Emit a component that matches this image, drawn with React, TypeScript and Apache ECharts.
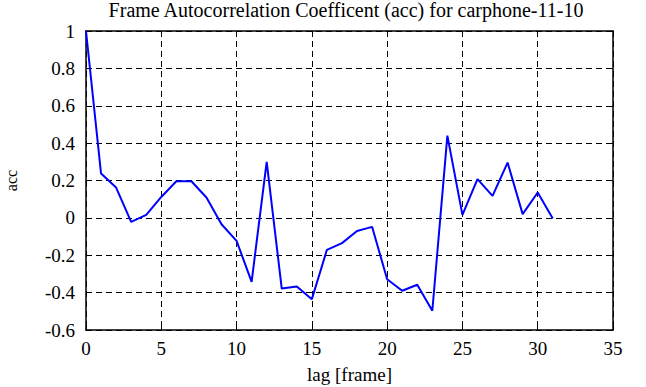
import React, { useEffect, useRef } from "react";
import * as echarts from "echarts";

const lags = [0, 1, 2, 3, 4, 5, 6, 7, 8, 9, 10, 11, 12, 13, 14, 15, 16, 17, 18, 19, 20, 21, 22, 23, 24, 25, 26, 27, 28, 29, 30, 31];
const acc = [1, 0.237, 0.162, -0.021, 0.016, 0.112, 0.196, 0.196, 0.109, -0.034, -0.123, -0.342, 0.3, -0.378, -0.367, -0.435, -0.171, -0.135, -0.07, -0.048, -0.328, -0.39, -0.358, -0.497, 0.44, 0.016, 0.207, 0.118, 0.296, 0.02, 0.136, -0.003];

const titleText = "Frame Autocorrelation Coefficent (acc) for carphone-11-10";
const xName = "lag [frame]";
const yName = "acc";

const font = "Liberation Serif";

export default function App() {
  const ref = useRef<HTMLDivElement>(null);
  useEffect(() => {
    if (!ref.current) return;
    const chart = echarts.init(ref.current, null, { renderer: "svg" });
    const axisLine = { show: true, onZero: false, lineStyle: { color: "#000", width: 1.5 } };
    const tick = { show: true, inside: true, length: 5, lineStyle: { color: "#000", width: 1 } };
    const split = { show: true, lineStyle: { color: "#000", width: 1, type: [6, 4] as any } };
    chart.setOption({
      animation: false,
      backgroundColor: "#fff",
      textStyle: { fontFamily: font, color: "#000" },
      title: {
        text: titleText,
        left: 346,
        textAlign: "center",
        top: 0,
        padding: [0, 0, 0, 0],
        textStyle: { fontFamily: font, fontSize: 20, fontWeight: "normal", color: "#000" },
      },
      grid: { left: 86, top: 31, right: 33, bottom: 57, containLabel: false, outerBoundsMode: "none" },
      xAxis: [
        {
          type: "value",
          min: 0,
          max: 35,
          interval: 5,
          position: "bottom",
          name: xName,
          nameLocation: "middle",
          nameGap: 35,
          nameTextStyle: { fontFamily: font, fontSize: 19, color: "#000" },
          axisLine,
          axisTick: tick,
          splitLine: split,
          axisLabel: { fontFamily: font, fontSize: 19, color: "#000", margin: 9 },
        },
        {
          type: "value",
          min: 0,
          max: 35,
          interval: 5,
          position: "top",
          axisLine,
          axisTick: tick,
          splitLine: { show: false },
          axisLabel: { show: false },
        },
      ],
      yAxis: [
        {
          type: "value",
          min: -0.6,
          max: 1,
          interval: 0.2,
          position: "left",
          name: yName,
          nameLocation: "middle",
          nameGap: 67,
          nameTextStyle: { fontFamily: font, fontSize: 16, color: "#000" },
          axisLine,
          axisTick: tick,
          splitLine: split,
          axisLabel: {
            fontFamily: font,
            fontSize: 19,
            color: "#000",
            margin: 11,
            formatter: (v: number) => String(Math.round(v * 10) / 10),
          },
        },
        {
          type: "value",
          min: -0.6,
          max: 1,
          interval: 0.2,
          position: "right",
          axisLine,
          axisTick: tick,
          splitLine: { show: false },
          axisLabel: { show: false },
        },
      ],
      series: [
        {
          type: "line",
          data: lags.map((l, i) => [l, acc[i]]),
          showSymbol: false,
          symbol: "none",
          lineStyle: { color: "#0000ff", width: 2 },
          xAxisIndex: 0,
          yAxisIndex: 0,
        },
      ],
    });
    return () => chart.dispose();
  }, []);
  return <div ref={ref} style={{ width: 646, height: 387, position: "absolute", left: 0, top: 0 }} />;
}
